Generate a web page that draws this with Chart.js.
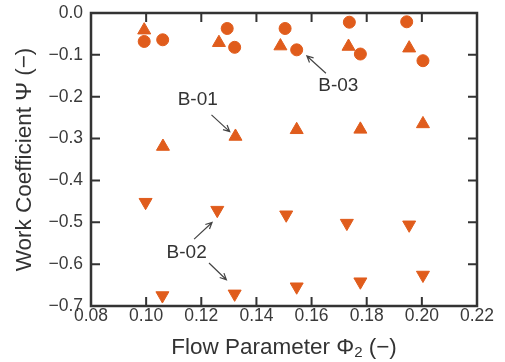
<!DOCTYPE html>
<html>
<head>
<meta charset="utf-8">
<script src="https://cdn.jsdelivr.net/npm/chart.js@4.4.0/dist/chart.umd.min.js"></script>
<style>
  html, body { margin: 0; padding: 0; background: #fff; }
  #wrap { width: 505px; height: 362px; }
</style>
</head>
<body>
<div id="wrap"><canvas id="myChart" width="505" height="362"></canvas></div>
<script>
// flow parameter (x) and work coefficient (y)
const b03Phi = [0.0993, 0.106, 0.1294, 0.1321, 0.1504, 0.1546, 0.1737, 0.1777, 0.1945, 0.2004];
const b03Psi = [-0.068, -0.064, -0.037, -0.082, -0.037, -0.088, -0.022, -0.098, -0.021, -0.114];

const topTriPhi = [0.0993, 0.1264, 0.1487, 0.1734, 0.1954];
const topTriPsi = [-0.041, -0.071, -0.079, -0.080, -0.084];

const b01Phi = [0.1061, 0.1324, 0.1546, 0.1777, 0.2004];
const b01Psi = [-0.319, -0.295, -0.279, -0.278, -0.265];

const b02UpperPhi = [0.0998, 0.1258, 0.1508, 0.1728, 0.1954];
const b02UpperPsi = [-0.452, -0.471, -0.482, -0.502, -0.506];

const b02LowerPhi = [0.1059, 0.1321, 0.1546, 0.1777, 0.2004];
const b02LowerPsi = [-0.675, -0.671, -0.654, -0.642, -0.626];

const xTicks = [0.08, 0.10, 0.12, 0.14, 0.16, 0.18, 0.20, 0.22];
const yTicks = [0.0, -0.1, -0.2, -0.3, -0.4, -0.5, -0.6, -0.7];

// callouts, in data units
const labelText = ['B-01', 'B-03', 'B-02'];
const labelPhi = [0.1187, 0.1697, 0.1147];
const labelPsi = [-0.2076, -0.174, -0.572];

const arrowFromPhi = [0.1237, 0.1652, 0.1174, 0.1228];
const arrowFromPsi = [-0.2434, -0.1439, -0.5401, -0.5974];
const arrowToPhi = [0.1303, 0.1583, 0.1239, 0.1291];
const arrowToPsi = [-0.2833, -0.1026, -0.5005, -0.6372];

const ORANGE = '#e05c1c';
const INK = '#333';
const FONT = '"Liberation Sans", Arial, sans-serif';

const pts = (xs, ys) => xs.map((x, i) => ({ x, y: ys[i] }));

const frameAndLabels = {
  id: 'frameAndLabels',
  afterDatasetsDraw(chart) {
    const { ctx, chartArea: a, scales: { x, y } } = chart;
    ctx.save();
    // inward ticks on all four sides
    ctx.strokeStyle = INK;
    ctx.lineWidth = 2;
    const tl = 9;
    ctx.beginPath();
    xTicks.slice(1, -1).forEach(v => {
      const px = x.getPixelForValue(v);
      ctx.moveTo(px, a.bottom); ctx.lineTo(px, a.bottom - tl);
      ctx.moveTo(px, a.top); ctx.lineTo(px, a.top + tl);
    });
    yTicks.slice(1, -1).forEach(v => {
      const py = y.getPixelForValue(v);
      ctx.moveTo(a.left, py); ctx.lineTo(a.left + tl, py);
      ctx.moveTo(a.right, py); ctx.lineTo(a.right - tl, py);
    });
    ctx.stroke();
    ctx.lineWidth = 2.5;
    ctx.strokeRect(a.left, a.top, a.right - a.left, a.bottom - a.top);

    // callout arrows
    ctx.lineWidth = 1.2;
    ctx.strokeStyle = '#444';
    arrowFromPhi.forEach((_, i) => {
      const x1 = x.getPixelForValue(arrowFromPhi[i]), y1 = y.getPixelForValue(arrowFromPsi[i]);
      const x2 = x.getPixelForValue(arrowToPhi[i]), y2 = y.getPixelForValue(arrowToPsi[i]);
      const ang = Math.atan2(y2 - y1, x2 - x1);
      ctx.beginPath();
      ctx.moveTo(x1, y1); ctx.lineTo(x2, y2);
      ctx.moveTo(x2 - 7 * Math.cos(ang - 0.45), y2 - 7 * Math.sin(ang - 0.45));
      ctx.lineTo(x2, y2);
      ctx.lineTo(x2 - 7 * Math.cos(ang + 0.45), y2 - 7 * Math.sin(ang + 0.45));
      ctx.stroke();
    });

    // callout text
    ctx.fillStyle = INK;
    ctx.font = '19px ' + FONT;
    ctx.textAlign = 'center';
    ctx.textBaseline = 'middle';
    labelText.forEach((t, i) => {
      ctx.fillText(t, x.getPixelForValue(labelPhi[i]), y.getPixelForValue(labelPsi[i]));
    });

    // x axis title with subscript
    const big = '22.5px ' + FONT, small = '15px ' + FONT;
    const parts = [['Flow Parameter \u03A6', big, 0], ['2', small, 5], [' (\u2212)', big, 0]];
    let total = 0;
    parts.forEach(p => { ctx.font = p[1]; total += ctx.measureText(p[0]).width; });
    let cx = (a.left + a.right) / 2 - total / 2;
    const ty = a.bottom + 42;
    ctx.textAlign = 'left';
    parts.forEach(p => {
      ctx.font = p[1];
      ctx.fillText(p[0], cx, ty + p[2]);
      cx += ctx.measureText(p[0]).width;
    });

    // y axis title
    ctx.translate(25, (a.top + a.bottom) / 2);
    ctx.rotate(-Math.PI / 2);
    ctx.font = big;
    ctx.textAlign = 'center';
    ctx.fillText('Work Coefficient \u03A8 (\u2212)', 0, 0);
    ctx.restore();
  }
};

const marker = (label, data, style, rot, r) => ({
  label, data,
  pointStyle: style,
  rotation: rot,
  pointRadius: r,
  pointHoverRadius: r,
  backgroundColor: ORANGE,
  borderColor: ORANGE,
  borderWidth: 1,
  showLine: false
});

new Chart(document.getElementById('myChart'), {
  type: 'scatter',
  data: {
    datasets: [
      marker('B-03', pts(b03Phi, b03Psi), 'circle', 0, 6),
      marker('Upper', pts(topTriPhi, topTriPsi), 'triangle', 0, 7.5),
      marker('B-01', pts(b01Phi, b01Psi), 'triangle', 0, 7.5),
      marker('B-02 a', pts(b02UpperPhi, b02UpperPsi), 'triangle', 180, 7.5),
      marker('B-02 b', pts(b02LowerPhi, b02LowerPsi), 'triangle', 180, 7.5)
    ]
  },
  options: {
    responsive: false,
    animation: false,
    layout: { padding: { top: 13, right: 28, left: 0, bottom: 0 } },
    plugins: { legend: { display: false }, tooltip: { enabled: false } },
    scales: {
      x: {
        type: 'linear',
        min: 0.08, max: 0.22,
        afterBuildTicks: s => { s.ticks = xTicks.map(v => ({ value: v })); },
        afterFit: s => { s.height = 56; s.paddingLeft = 0; s.paddingRight = 0; },
        grid: { display: false, drawTicks: false },
        border: { display: false },
        ticks: {
          padding: 0,
          maxRotation: 0,
          color: '#3a3a3a',
          font: { family: FONT, size: 17.5 },
          callback: v => v.toFixed(2)
        }
      },
      y: {
        type: 'linear',
        min: -0.7, max: 0,
        afterBuildTicks: s => { s.ticks = yTicks.map(v => ({ value: v })); },
        afterFit: s => { s.width = 91; s.paddingTop = 0; s.paddingBottom = 0; },
        grid: { display: false, drawTicks: false },
        border: { display: false },
        ticks: {
          padding: 8,
          color: '#3a3a3a',
          font: { family: FONT, size: 17.5 },
          callback: v => (v < -1e-9 ? '\u2212' : '') + Math.abs(v).toFixed(1)
        }
      }
    }
  },
  plugins: [frameAndLabels]
});
</script>
</body>
</html>
